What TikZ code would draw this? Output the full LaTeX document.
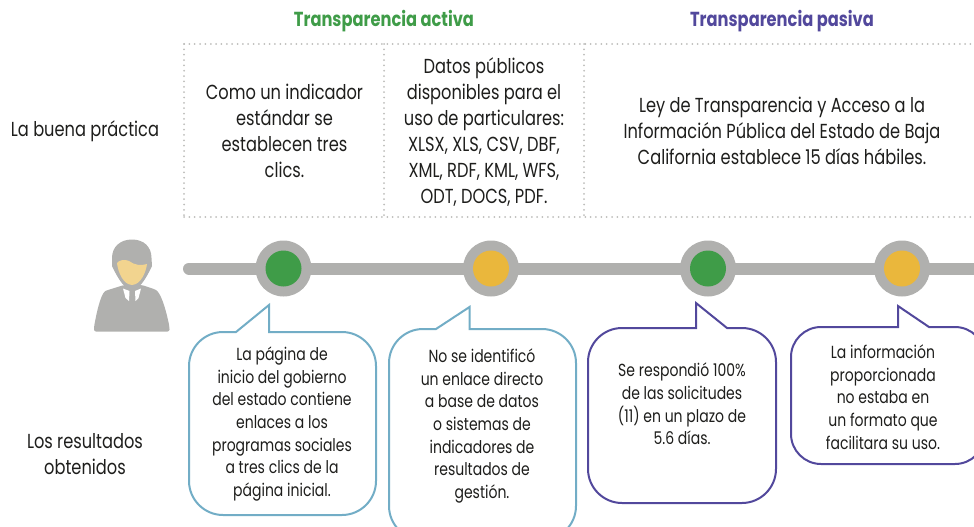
\documentclass[tikz,border=0pt]{standalone}
\usepackage{fontspec}
\setmainfont[FakeStretch=0.8]{Poppins}
\definecolor{tlgray}{HTML}{B0B0AE}
\definecolor{dotgray}{HTML}{BDBDBB}
\definecolor{okgreen}{HTML}{3F9C48}
\definecolor{midyellow}{HTML}{EAB73C}
\definecolor{callblue}{HTML}{72ADC6}
\definecolor{callpurple}{HTML}{52489C}
\definecolor{skin}{HTML}{F2D48F}
\definecolor{txt}{HTML}{1E1E1C}
\tikzset{
  x=1pt,y=-1pt,
  dotline/.style={draw=dotgray,line width=2pt,line cap=round,dash pattern=on 0pt off 5.35pt},
  big/.style={align=center,text=txt,font=\fontsize{20.3}{26}\selectfont,inner sep=0},
  small/.style={align=center,text=txt,font=\fontsize{17.5}{22.6}\selectfont,inner sep=0},
  head/.style={font=\bfseries\fontsize{20.3}{22}\selectfont,inner sep=0},
  outerdot/.style={circle,fill=tlgray,minimum size=56pt,inner sep=0},
  innerdot/.style={circle,minimum size=36pt,inner sep=0},
  callout/.style={line width=2pt,fill=white,line join=miter},
}
% L,T,R,B,radius,tipx,tipy,basea,baseb
\newcommand\speechpath[9]{%
  (#8,#2) -- (#6,#7) -- (#9,#2) -- ({#3-#5},#2)
  .. controls ({#3-.45*#5},#2) and (#3,{#2+.45*#5}) .. (#3,{#2+#5})
  -- (#3,{#4-#5})
  .. controls (#3,{#4-.45*#5}) and ({#3-.45*#5},#4) .. ({#3-#5},#4)
  -- ({#1+#5},#4)
  .. controls ({#1+.45*#5},#4) and (#1,{#4-.45*#5}) .. (#1,{#4-#5})
  -- (#1,{#2+#5})
  .. controls (#1,{#2+.45*#5}) and ({#1+.45*#5},#2) .. ({#1+#5},#2)
  -- cycle}
\begin{document}
\begin{tikzpicture}
\useasboundingbox (0,0) rectangle (974,527);
% headings
\node[head,text=okgreen] (hA) at (384,21) {Transparencia activa};
\node[head,text=callpurple] (hP) at (782,21) {Transparencia pasiva};
% dotted frame
\coordinate (tl) at (184,44); \coordinate (tr) at (974,44);
\coordinate (bl) at (184,217); \coordinate (br) at (974,217);
\coordinate (m1t) at (384,44); \coordinate (m1b) at (384,217);
\coordinate (m2t) at (584,44); \coordinate (m2b) at (584,217);
\draw[dotline] (tl) -- (tr);
\draw[dotline] (bl) -- (br);
\draw[dotline] (tl) -- (bl);
\draw[dotline] (m1t) -- (m1b);
\draw[dotline] (m2t) -- (m2b);
% row labels
\node[big] (lb) at (85,131) {La buena práctica};
\node[big] (lr) at (85,454.5) {Los resultados\\obtenidos};
% practice texts
\node[big] (t1) at (284.5,131) {Como un indicador\\estándar se\\establecen tres\\clics.};
\node[big] (t2) at (484,132) {Datos públicos\\disponibles para el\\uso de particulares:\\XLSX, XLS, CSV, DBF,\\XML, RDF, KML, WFS,\\ODT, DOCS, PDF.};
\node[big] (t3) at (782,131) {Ley de Transparencia y Acceso a la\\Información Pública del Estado de Baja\\California establece 15 días hábiles.};
% timeline
\coordinate (tlstart) at (189,268.5); \coordinate (tlend) at (974,268.5);
\draw[tlgray,line width=12pt,line cap=round] (tlstart) -- (tlend);
\node[outerdot] (o1) at (283.5,268.5) {}; \node[innerdot,fill=okgreen] (i1) at (o1) {};
\node[outerdot] (o2) at (491,268.5) {}; \node[innerdot,fill=midyellow] (i2) at (o2) {};
\node[outerdot] (o3) at (708,268.5) {}; \node[innerdot,fill=okgreen] (i3) at (o3) {};
\node[outerdot] (o4) at (902,268.5) {}; \node[innerdot,fill=midyellow] (i4) at (o4) {};
% person
\fill[tlgray,rounded corners=2pt] (94,331.5) -- (94,327) .. controls (98,305) and (102,292) .. (108,290)
  -- (124,285) -- (142,285) -- (154,289) .. controls (160,292) and (165,305) .. (169.5,327) -- (169.5,331.5) -- cycle;
\fill[tlgray] (132,239.5) .. controls (120,239.5) and (112,247) .. (112,258)
  -- (112,266) .. controls (115,272) and (122,288) .. (132,291)
  .. controls (142,288) and (149,272) .. (152,266) -- (151.5,258)
  .. controls (151.5,247) and (144,239.5) .. (132,239.5) -- cycle;
\fill[skin] (117,263) .. controls (119,260) and (125,259) .. (129,261)
  .. controls (134,265) and (141,266) .. (147,264)
  .. controls (146,272) and (141,284.5) .. (132,285)
  .. controls (123,284.5) and (118,272) .. (117,263) -- cycle;
\fill[white] (123,288.5) -- (129.5,291) -- (129,301) -- (125.5,298) -- cycle;
\fill[white] (135,291) -- (141,288.5) -- (138.5,298) -- (135.5,301) -- cycle;
% callouts
\draw[callout,draw=callblue] \speechpath{189}{332}{376}{515}{34}{269}{305}{236}{269};
\node[small] (c1) at (282,424) {La página de\\inicio del gobierno\\del estado contiene\\enlaces a los\\programas sociales\\a tres clics de la\\página inicial.};
\draw[callout,draw=callblue] \speechpath{389}{329}{576}{540}{34}{469.5}{307}{436}{469.5};
\node[small] (c2) at (482,426) {No se identificó\\un enlace directo\\a base de datos\\o sistemas de\\indicadores de\\resultados de\\gestión.};
\draw[callout,draw=callpurple] \speechpath{588}{328}{776}{503}{34}{696}{303}{696}{727};
\node[small] (c3) at (682,404) {Se respondió 100\%\\de las solicitudes\\(11) en un plazo de\\5.6 días.};
\draw[callout,draw=callpurple] \speechpath{791}{327}{985}{464}{30}{898}{306}{898}{929};
\node[small] (c4) at (883,397) {La información\\proporcionada\\no estaba en\\un formato que\\facilitara su uso.};
\end{tikzpicture}
\end{document}
